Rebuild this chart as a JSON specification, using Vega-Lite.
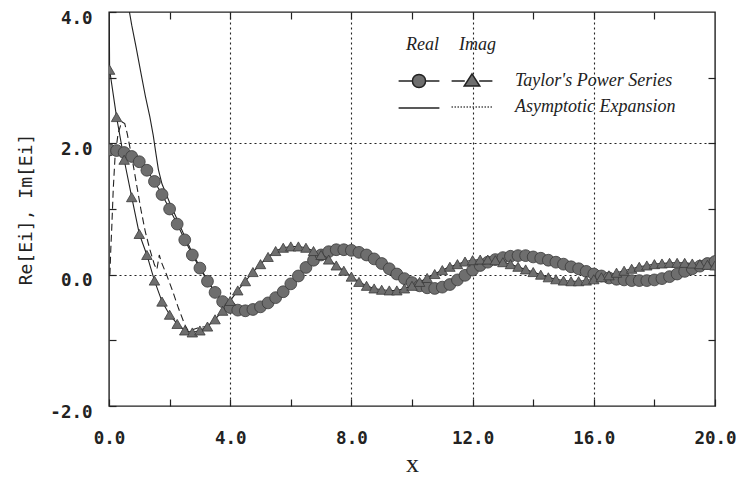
{
  "$schema": "https://vega.github.io/schema/vega-lite/v6.json",
  "autosize": "none",
  "width": 606,
  "height": 394,
  "padding": {"left": 109, "top": 12, "right": 21, "bottom": 71},
  "background": "white",
  "config": {
    "view": {"stroke": "#222", "strokeWidth": 1.4},
    "axis": {"domain": false, "tickColor": "#222", "tickWidth": 1.2, "labelColor": "#222", "titleColor": "#222"}
  },
  "datasets": {
    "taylor": [
      {"x": 0, "re": 1.90, "im": 4.6},
      {"x": 0.02, "re": 1.90, "im": 3.12},
      {"x": 0.25, "re": 1.89, "im": 2.40},
      {"x": 0.5, "re": 1.86, "im": 1.75},
      {"x": 0.75, "re": 1.80, "im": 1.18},
      {"x": 1.0, "re": 1.72, "im": 0.62},
      {"x": 1.25, "re": 1.59, "im": 0.30},
      {"x": 1.5, "re": 1.42, "im": -0.09},
      {"x": 1.75, "re": 1.22, "im": -0.41},
      {"x": 2.0, "re": 1.00, "im": -0.61},
      {"x": 2.25, "re": 0.77, "im": -0.75},
      {"x": 2.5, "re": 0.53, "im": -0.85},
      {"x": 2.75, "re": 0.30, "im": -0.88},
      {"x": 3.0, "re": 0.10, "im": -0.85},
      {"x": 3.25, "re": -0.10, "im": -0.79},
      {"x": 3.5, "re": -0.27, "im": -0.68},
      {"x": 3.75, "re": -0.41, "im": -0.55},
      {"x": 4.0, "re": -0.50, "im": -0.40},
      {"x": 4.25, "re": -0.54, "im": -0.24},
      {"x": 4.5, "re": -0.55, "im": -0.10},
      {"x": 4.75, "re": -0.53, "im": 0.04},
      {"x": 5.0, "re": -0.49, "im": 0.16},
      {"x": 5.25, "re": -0.43, "im": 0.27},
      {"x": 5.5, "re": -0.35, "im": 0.36},
      {"x": 5.75, "re": -0.26, "im": 0.41},
      {"x": 6.0, "re": -0.14, "im": 0.43},
      {"x": 6.25, "re": -0.02, "im": 0.43},
      {"x": 6.5, "re": 0.11, "im": 0.41},
      {"x": 6.75, "re": 0.22, "im": 0.36},
      {"x": 7.0, "re": 0.30, "im": 0.30},
      {"x": 7.25, "re": 0.35, "im": 0.23},
      {"x": 7.5, "re": 0.38, "im": 0.14},
      {"x": 7.75, "re": 0.38, "im": 0.06},
      {"x": 8.0, "re": 0.37, "im": -0.03},
      {"x": 8.25, "re": 0.34, "im": -0.11},
      {"x": 8.5, "re": 0.30, "im": -0.17},
      {"x": 8.75, "re": 0.24, "im": -0.21},
      {"x": 9.0, "re": 0.17, "im": -0.23},
      {"x": 9.25, "re": 0.09, "im": -0.24},
      {"x": 9.5, "re": 0.01, "im": -0.24},
      {"x": 9.75, "re": -0.06, "im": -0.21},
      {"x": 10.0, "re": -0.12, "im": -0.17},
      {"x": 10.25, "re": -0.17, "im": -0.11},
      {"x": 10.5, "re": -0.20, "im": -0.05},
      {"x": 10.75, "re": -0.21, "im": 0.01},
      {"x": 11.0, "re": -0.19, "im": 0.07},
      {"x": 11.25, "re": -0.15, "im": 0.12},
      {"x": 11.5, "re": -0.08, "im": 0.16},
      {"x": 11.75, "re": -0.01, "im": 0.20},
      {"x": 12.0, "re": 0.07, "im": 0.22},
      {"x": 12.25, "re": 0.14, "im": 0.23},
      {"x": 12.5, "re": 0.19, "im": 0.23},
      {"x": 12.75, "re": 0.23, "im": 0.22},
      {"x": 13.0, "re": 0.26, "im": 0.19},
      {"x": 13.25, "re": 0.28, "im": 0.16},
      {"x": 13.5, "re": 0.29, "im": 0.12},
      {"x": 13.75, "re": 0.29, "im": 0.08},
      {"x": 14.0, "re": 0.27, "im": 0.04},
      {"x": 14.25, "re": 0.25, "im": 0.00},
      {"x": 14.5, "re": 0.22, "im": -0.04},
      {"x": 14.75, "re": 0.19, "im": -0.07},
      {"x": 15.0, "re": 0.16, "im": -0.09},
      {"x": 15.25, "re": 0.12, "im": -0.10},
      {"x": 15.5, "re": 0.09, "im": -0.10},
      {"x": 15.75, "re": 0.05, "im": -0.09},
      {"x": 16.0, "re": 0.01, "im": -0.07},
      {"x": 16.25, "re": -0.02, "im": -0.04},
      {"x": 16.5, "re": -0.05, "im": -0.01},
      {"x": 16.75, "re": -0.07, "im": 0.03},
      {"x": 17.0, "re": -0.08, "im": 0.06},
      {"x": 17.25, "re": -0.09, "im": 0.09},
      {"x": 17.5, "re": -0.09, "im": 0.12},
      {"x": 17.75, "re": -0.09, "im": 0.14},
      {"x": 18.0, "re": -0.08, "im": 0.16},
      {"x": 18.25, "re": -0.06, "im": 0.17},
      {"x": 18.5, "re": -0.03, "im": 0.18},
      {"x": 18.75, "re": 0.01, "im": 0.18},
      {"x": 19.0, "re": 0.05, "im": 0.18},
      {"x": 19.25, "re": 0.09, "im": 0.17},
      {"x": 19.5, "re": 0.13, "im": 0.16},
      {"x": 19.75, "re": 0.17, "im": 0.15},
      {"x": 20.0, "re": 0.20, "im": 0.14}
    ],
    "asym_re": [
      {"x": 0.6, "y": 4.2},
      {"x": 0.75, "y": 3.8},
      {"x": 0.9, "y": 3.45},
      {"x": 1.05, "y": 3.08},
      {"x": 1.2, "y": 2.72},
      {"x": 1.35, "y": 2.4},
      {"x": 1.46, "y": 2.12},
      {"x": 1.55, "y": 1.84},
      {"x": 1.63, "y": 1.6},
      {"x": 1.75, "y": 1.38},
      {"x": 2.0, "y": 1.1},
      {"x": 2.25, "y": 0.84},
      {"x": 2.5, "y": 0.58},
      {"x": 2.75, "y": 0.33},
      {"x": 3.0, "y": 0.12},
      {"x": 3.25, "y": -0.09},
      {"x": 3.5, "y": -0.27}
    ],
    "asym_im": [
      {"x": 0.03, "y": 0.0},
      {"x": 0.06, "y": 0.4},
      {"x": 0.09, "y": 0.7},
      {"x": 0.14, "y": 1.3},
      {"x": 0.2, "y": 1.8},
      {"x": 0.3, "y": 2.15},
      {"x": 0.42, "y": 2.33},
      {"x": 0.52, "y": 2.3},
      {"x": 0.6, "y": 2.15},
      {"x": 0.75, "y": 1.8},
      {"x": 0.9, "y": 1.4},
      {"x": 1.05, "y": 1.0},
      {"x": 1.2, "y": 0.65},
      {"x": 1.35, "y": 0.38},
      {"x": 1.5, "y": 0.15},
      {"x": 1.58, "y": 0.08},
      {"x": 1.66, "y": 0.3},
      {"x": 1.72, "y": 0.2},
      {"x": 1.9, "y": 0.0},
      {"x": 2.1, "y": -0.25},
      {"x": 2.3, "y": -0.52},
      {"x": 2.5, "y": -0.76},
      {"x": 2.62, "y": -0.86},
      {"x": 2.75, "y": -0.84},
      {"x": 3.0, "y": -0.8},
      {"x": 3.25, "y": -0.79},
      {"x": 3.5, "y": -0.68}
    ],
    "legend": [
      {"method": "Taylor's Power Series"},
      {"method": "Asymptotic Expansion"}
    ]
  },
  "layer": [
    {
      "data": {"name": "asym_im"},
      "mark": {"type": "line", "color": "#222", "strokeWidth": 1.1, "strokeDash": [7, 4], "clip": true},
      "encoding": {
        "x": {"field": "x", "type": "quantitative", "scale": {"domain": [0, 20], "nice": false, "zero": false}, "axis": null},
        "y": {"field": "y", "type": "quantitative", "scale": {"domain": [-2, 4], "nice": false, "zero": false}, "axis": null}
      }
    },
    {
      "data": {"name": "asym_re"},
      "mark": {"type": "line", "color": "#222", "strokeWidth": 1.1, "clip": true},
      "encoding": {
        "x": {"field": "x", "type": "quantitative", "axis": null},
        "y": {"field": "y", "type": "quantitative", "axis": null}
      }
    },
    {
      "data": {"name": "taylor"},
      "mark": {"type": "line", "color": "#222", "strokeWidth": 1.1, "clip": true},
      "encoding": {
        "x": {
          "field": "x", "type": "quantitative",
          "axis": {
            "orient": "bottom",
            "values": [0, 2, 4, 6, 8, 10, 12, 14, 16, 18, 20],
            "labelExpr": "datum.value % 4 === 0 ? format(datum.value, '.1f') : ''",
            "grid": true,
            "gridColor": "#222",
            "gridDash": [2, 3],
            "gridWidth": 1.1,
            "gridOpacity": {"condition": {"test": "datum.value % 4 === 0 && datum.value > 0 && datum.value < 20", "value": 1}, "value": 0},
            "tickSize": -7,
            "labelFont": "DejaVu Sans Mono",
            "labelFontSize": 17.5,
            "labelFontWeight": "bold",
            "labelPadding": 30,
            "labelFlush": false,
            "title": "x",
            "titleFont": "Liberation Serif",
            "titleFontSize": 26,
            "titleFontWeight": "normal",
            "titlePadding": 4
          }
        },
        "y": {
          "field": "re", "type": "quantitative",
          "axis": {
            "orient": "left",
            "values": [-2, -1, 0, 1, 2, 3, 4],
            "labelExpr": "datum.value % 2 === 0 ? (datum.value < 0 ? '-' : '') + format(abs(datum.value), '.1f') : ''",
            "grid": true,
            "gridColor": "#222",
            "gridDash": [2, 3],
            "gridWidth": 1.1,
            "gridOpacity": {"condition": {"test": "datum.value === 0 || datum.value === 2", "value": 1}, "value": 0},
            "tickSize": -7,
            "labelFont": "DejaVu Sans Mono",
            "labelFontSize": 17.5,
            "labelFontWeight": "bold",
            "labelPadding": 24,
            "labelOffset": 6,
            "labelFlush": false,
            "title": "Re[Ei], Im[Ei]",
            "titleFont": "DejaVu Sans Mono",
            "titleFontSize": 18,
            "titleFontWeight": "normal",
            "titlePadding": 14
          }
        }
      }
    },
    {
      "data": {"name": "taylor"},
      "mark": {"type": "line", "color": "#222", "strokeWidth": 1.1, "clip": true},
      "encoding": {
        "x": {
          "field": "x", "type": "quantitative",
          "axis": {"orient": "top", "values": [2, 4, 6, 8, 10, 12, 14, 16, 18], "labels": false, "grid": false, "tickSize": -7, "title": null}
        },
        "y": {
          "field": "im", "type": "quantitative",
          "axis": {"orient": "right", "values": [-1, 0, 1, 2, 3], "labels": false, "grid": false, "tickSize": -7, "title": null}
        }
      }
    },
    {
      "data": {"name": "taylor"},
      "mark": {"type": "point", "shape": "circle", "filled": true, "fill": "#6e6e6e", "stroke": "#3a3a3a", "strokeWidth": 0.8, "size": 140, "opacity": 1, "clip": true},
      "encoding": {
        "x": {"field": "x", "type": "quantitative", "axis": null},
        "y": {"field": "re", "type": "quantitative", "axis": null}
      }
    },
    {
      "data": {"name": "taylor"},
      "mark": {"type": "point", "shape": "triangle-up", "filled": true, "fill": "#6e6e6e", "stroke": "#3a3a3a", "strokeWidth": 0.8, "size": 110, "opacity": 1, "clip": true},
      "encoding": {
        "x": {"field": "x", "type": "quantitative", "axis": null},
        "y": {"field": "im", "type": "quantitative", "axis": null}
      }
    },
    {
      "data": {"name": "legend"},
      "transform": [{"filter": "datum.method == 'none'"}],
      "mark": {"type": "point", "filled": true, "fill": "#6e6e6e", "stroke": "#222", "strokeWidth": 1.1, "opacity": 1},
      "encoding": {
        "shape": {
          "field": "method", "type": "nominal",
          "scale": {
            "domain": ["Taylor's Power Series", "Asymptotic Expansion"],
            "range": ["M-1.7,0H-0.55M0.55,0H1.7M-0.55,0A0.55,0.55,0,1,1,0.55,0A0.55,0.55,0,1,1,-0.55,0Z", "M-1.7,0H1.7"]
          },
          "legend": {
            "title": "Real",
            "orient": "none",
            "legendX": 297,
            "legendY": 24,
            "symbolSize": 576,
            "labelExpr": "''",
            "titleFont": "Liberation Serif",
            "titleFontStyle": "italic",
            "titleFontWeight": "normal",
            "titleFontSize": 18,
            "titleColor": "#222",
            "titlePadding": 14,
            "rowPadding": 4,
            "padding": 0
          }
        }
      }
    },
    {
      "data": {"name": "legend"},
      "transform": [{"filter": "datum.method == 'none'"}],
      "mark": {"type": "point", "filled": true, "fill": "#6e6e6e", "stroke": "#222", "strokeWidth": 1.1, "opacity": 1},
      "encoding": {
        "shape": {
          "field": "method", "type": "nominal",
          "scale": {
            "domain": ["Taylor's Power Series", "Asymptotic Expansion"],
            "range": ["M-1.7,0H-0.6M0.6,0H1.7M0,-0.6L0.65,0.42L-0.65,0.42Z", "M-1.7,0H-1.6M-1.45,0H-1.35M-1.2,0H-1.1M-0.95,0H-0.85M-0.7,0H-0.6M-0.45,0H-0.35M-0.2,0H-0.1M0.05,0H0.15M0.3,0H0.4M0.55,0H0.65M0.8,0H0.9M1.05,0H1.15M1.3,0H1.4M1.55,0H1.65"]
          },
          "legend": {
            "title": "Imag",
            "orient": "none",
            "legendX": 350,
            "legendY": 24,
            "symbolSize": 576,
            "labelOffset": 30,
            "labelLimit": 400,
            "labelFont": "Liberation Serif",
            "labelFontStyle": "italic",
            "labelFontSize": 18,
            "labelColor": "#222",
            "titleFont": "Liberation Serif",
            "titleFontStyle": "italic",
            "titleFontWeight": "normal",
            "titleFontSize": 18,
            "titleColor": "#222",
            "titlePadding": 14,
            "rowPadding": 4,
            "padding": 0
          }
        }
      }
    }
  ],
  "resolve": {
    "axis": {"x": "independent", "y": "independent"},
    "scale": {"shape": "independent"},
    "legend": {"shape": "independent"}
  }
}
